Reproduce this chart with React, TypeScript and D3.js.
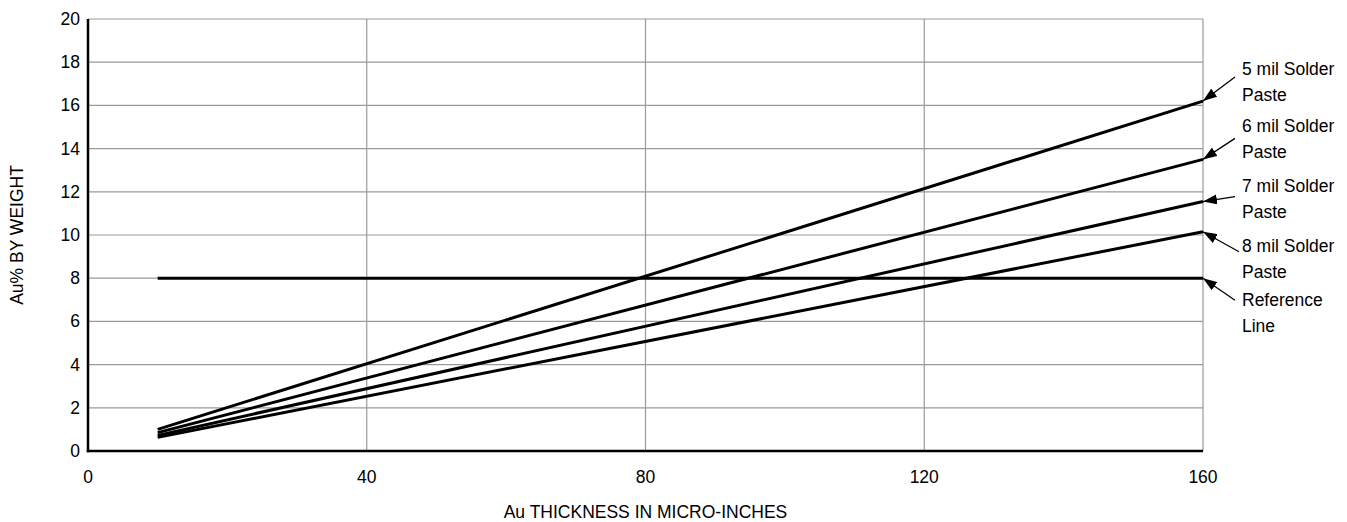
import React, { useEffect, useRef } from 'react';
import * as d3 from 'd3';

// x values (micro-inches) where each curve is sampled
const thickness = [10, 160];

// Au% by weight for each paste thickness, read at the two ends
const solder5mil = [1.0, 16.2];
const solder6mil = [0.85, 13.5];
const solder7mil = [0.72, 11.55];
const solder8mil = [0.63, 10.15];
const referenceLine = [8, 8];

const seriesNames = ['5 mil Solder', '6 mil Solder', '7 mil Solder', '8 mil Solder', 'Reference'];
const seriesLabels = [
  ['5 mil Solder', 'Paste'],
  ['6 mil Solder', 'Paste'],
  ['7 mil Solder', 'Paste'],
  ['8 mil Solder', 'Paste'],
  ['Reference', 'Line'],
];

const xTicks = [0, 40, 80, 120, 160];
const yTicks = [0, 2, 4, 6, 8, 10, 12, 14, 16, 18, 20];

const App: React.FC = () => {
  const svgRef = useRef<SVGSVGElement>(null);

  useEffect(() => {
    if (!svgRef.current) return;
    const width = 1347;
    const height = 522;
    const margin = { top: 19, right: 144, bottom: 71, left: 88 };
    const font = '"Liberation Sans", Arial, Helvetica, sans-serif';
    const fontSize = '17.5px';

    const svg = d3.select(svgRef.current);
    svg.selectAll('*').remove();
    svg.attr('width', width).attr('height', height);

    const x = d3.scaleLinear().domain([0, 160]).range([margin.left, width - margin.right]);
    const y = d3.scaleLinear().domain([0, 20]).range([height - margin.bottom, margin.top]);

    const defs = svg.append('defs');
    defs.append('marker')
      .attr('id', 'arrow')
      .attr('markerUnits', 'userSpaceOnUse')
      .attr('viewBox', '0 0 14 10')
      .attr('refX', 14)
      .attr('refY', 5)
      .attr('markerWidth', 14)
      .attr('markerHeight', 10)
      .attr('orient', 'auto')
      .append('path')
      .attr('d', 'M0,0 L14,5 L0,10 Z')
      .attr('fill', '#000');

    // Grid
    svg.append('g')
      .selectAll('line')
      .data(yTicks.filter(d => d > 0))
      .join('line')
      .attr('x1', x(0))
      .attr('x2', x(160))
      .attr('y1', d => y(d))
      .attr('y2', d => y(d))
      .attr('stroke', '#9a9a9a')
      .attr('stroke-width', 1.2);

    svg.append('g')
      .selectAll('line')
      .data(xTicks.filter(d => d > 0))
      .join('line')
      .attr('x1', d => x(d))
      .attr('x2', d => x(d))
      .attr('y1', y(0))
      .attr('y2', y(20))
      .attr('stroke', '#9a9a9a')
      .attr('stroke-width', 1.2);

    // Axes (black, left and bottom)
    svg.append('line')
      .attr('x1', x(0)).attr('x2', x(0))
      .attr('y1', y(20)).attr('y2', y(0) + 1.25)
      .attr('stroke', '#000').attr('stroke-width', 2.5);
    svg.append('line')
      .attr('x1', x(0) - 1.25).attr('x2', x(160))
      .attr('y1', y(0)).attr('y2', y(0))
      .attr('stroke', '#000').attr('stroke-width', 2.5);

    // Tick labels
    svg.append('g')
      .selectAll('text')
      .data(yTicks)
      .join('text')
      .attr('x', x(0) - 8)
      .attr('y', d => y(d) + 6)
      .attr('text-anchor', 'end')
      .style('font-family', font)
      .style('font-size', fontSize)
      .text(d => d);

    svg.append('g')
      .selectAll('text')
      .data(xTicks)
      .join('text')
      .attr('x', d => x(d))
      .attr('y', y(0) + 32)
      .attr('text-anchor', 'middle')
      .style('font-family', font)
      .style('font-size', fontSize)
      .text(d => d);

    // Axis titles
    svg.append('text')
      .attr('x', (x(0) + x(160)) / 2)
      .attr('y', 518)
      .attr('text-anchor', 'middle')
      .style('font-family', font)
      .style('font-size', fontSize)
      .text('Au THICKNESS IN MICRO-INCHES');

    svg.append('text')
      .attr('transform', `translate(23,${(y(0) + y(20)) / 2}) rotate(-90)`)
      .attr('text-anchor', 'middle')
      .style('font-family', font)
      .style('font-size', fontSize)
      .text('Au% BY WEIGHT');

    // Data lines
    const series = [solder5mil, solder6mil, solder7mil, solder8mil, referenceLine];
    const line = d3.line<number>()
      .x((_, i) => x(thickness[i]))
      .y(d => y(d));

    svg.append('g')
      .selectAll('path')
      .data(series)
      .join('path')
      .attr('d', d => line(d))
      .attr('fill', 'none')
      .attr('stroke', '#000')
      .attr('stroke-width', 3);

    // Callouts: text block and arrow offsets from the line end
    const labelBaselines = [75, 132, 192, 252, 306];
    const arrowTails = [
      [32, -24],
      [32, -21],
      [32, -5],
      [36, 20],
      [32, 22],
    ];
    const labelX = 1242;

    series.forEach((s, i) => {
      const ex = x(thickness[thickness.length - 1]);
      const ey = y(s[s.length - 1]);
      svg.append('line')
        .attr('class', `callout-${i}`)
        .attr('data-name', seriesNames[i])
        .attr('x1', ex + arrowTails[i][0])
        .attr('y1', ey + arrowTails[i][1])
        .attr('x2', ex)
        .attr('y2', ey)
        .attr('stroke', '#000')
        .attr('stroke-width', 1.3)
        .attr('marker-end', 'url(#arrow)');

      const t = svg.append('text')
        .attr('x', labelX)
        .attr('y', labelBaselines[i])
        .style('font-family', font)
        .style('font-size', fontSize);
      seriesLabels[i].forEach((txt, j) => {
        t.append('tspan')
          .attr('x', labelX)
          .attr('dy', j === 0 ? 0 : 26)
          .text(txt);
      });
    });
  }, []);

  return (
    <svg ref={svgRef} style={{ position: 'absolute', left: 0, top: 0, background: '#fff' }} />
  );
};

export default App;
